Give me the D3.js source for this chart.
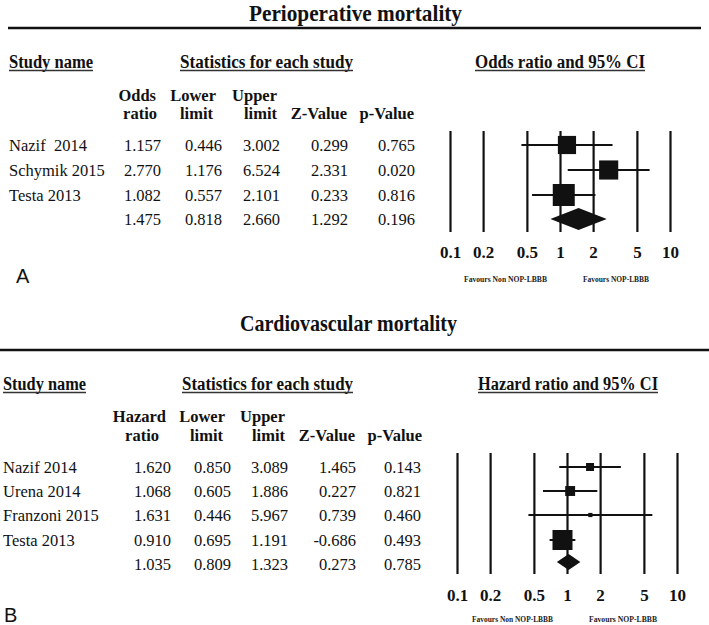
<!DOCTYPE html>
<html><head><meta charset="utf-8">
<script src="https://cdn.jsdelivr.net/npm/d3@7"></script>
<style>body{margin:0;background:#fff} svg{display:block}</style>
</head><body>
<svg id="chart" width="709" height="625"></svg>
<script>
// ---------- data ----------
const tickValues = [0.1, 0.2, 0.5, 1, 2, 5, 10];
const tickLabels = ["0.1", "0.2", "0.5", "1", "2", "5", "10"];

// Panel A: Perioperative mortality (odds ratio)
const studiesA = ["Nazif  2014", "Schymik 2015", "Testa 2013"];
const ratioA   = [1.157, 2.770, 1.082];
const lowerA   = [0.446, 1.176, 0.557];
const upperA   = [3.002, 6.524, 2.101];
const zValueA  = [0.299, 2.331, 0.233];
const pValueA  = [0.765, 0.020, 0.816];
const weightA  = [28, 31, 41];
const summaryA = [1.475, 0.818, 2.660, 1.292, 0.196]; // ratio, lower, upper, z, p

// Panel B: Cardiovascular mortality (hazard ratio)
const studiesB = ["Nazif 2014", "Urena 2014", "Franzoni 2015", "Testa 2013"];
const ratioB   = [1.620, 1.068, 1.631, 0.910];
const lowerB   = [0.850, 0.605, 0.446, 0.695];
const upperB   = [3.089, 1.886, 5.967, 1.191];
const zValueB  = [1.465, 0.227, 0.739, -0.686];
const pValueB  = [0.143, 0.821, 0.460, 0.493];
const weightB  = [11, 17, 3, 69];
const summaryB = [1.035, 0.809, 1.323, 0.273, 0.785];

const favourLabels = ["Favours Non NOP-LBBB", "Favours NOP-LBBB"];

// ---------- drawing ----------
const svg = d3.select("#chart");
const SERIF = "'Liberation Serif','Times New Roman',Times,serif";
const SANS = "'Liberation Sans',Arial,Helvetica,sans-serif";
const fmt = d3.formatLocale({ decimal: ".", thousands: ",", grouping: [3], currency: ["", ""], minus: "-" }).format(".3f");

function drawPanel(p) {
  const g = svg.append("g");
  // title
  g.append("text").attr("x", p.titleX).attr("y", p.titleY)
    .attr("text-anchor", "middle").attr("font-family", SERIF).attr("font-weight", "bold")
    .attr("font-size", 24).attr("fill", "#111")
    .attr("textLength", p.titleW).attr("lengthAdjust", "spacingAndGlyphs")
    .text(p.title);
  // rule
  g.append("line").attr("x1", p.ruleX[0]).attr("x2", p.ruleX[1])
    .attr("y1", p.ruleY).attr("y2", p.ruleY).attr("stroke", "#111").attr("stroke-width", 2.5);

  // section headers, underlined
  p.sections.forEach(s => {
    g.append("text").attr("x", s.x).attr("y", p.secY)
      .attr("font-family", SERIF).attr("font-weight", "bold").attr("font-size", 18)
      .attr("fill", "#111").attr("textLength", s.w).attr("lengthAdjust", "spacingAndGlyphs")
      .text(s.text);
    g.append("line").attr("x1", s.x).attr("x2", s.x + s.w)
      .attr("y1", p.secY + 2.5).attr("y2", p.secY + 2.5)
      .attr("stroke", "#333").attr("stroke-width", 1.5);
  });

  // column headers
  p.headers.forEach((h, i) => {
    h.forEach((line, j) => {
      if (!line) return;
      g.append("text").attr("x", p.hdrRight[i][j]).attr("y", j === 0 ? p.hdr1Y : p.hdr2Y)
        .attr("text-anchor", "end").attr("font-family", SERIF).attr("font-weight", "bold")
        .attr("font-size", 16.5).attr("fill", "#111").text(line);
    });
  });

  // rows
  const rows = p.studies.map((s, i) => ({
    name: s, vals: [p.ratio[i], p.lower[i], p.upper[i], p.z[i], p.p[i]], w: p.weight[i], y: p.rowY[i]
  }));
  const sumRow = { name: "", vals: p.summary, y: p.rowY[p.studies.length] };
  [...rows, sumRow].forEach(r => {
    g.append("text").attr("x", p.nameX).attr("y", r.y + 5.5)
      .attr("font-family", SERIF).attr("font-size", 16.5).attr("fill", "#111")
      .style("white-space", "pre").text(r.name);
    r.vals.forEach((v, k) => {
      g.append("text").attr("x", p.colRight[k]).attr("y", r.y + 5.5)
        .attr("text-anchor", "end").attr("font-family", SERIF).attr("font-size", 16.5)
        .attr("fill", "#111").text(fmt(v));
    });
  });

  // forest plot
  const x = d3.scaleLog().domain([0.1, 10]).range(p.xRange);
  const axis = d3.axisBottom(x).tickValues(tickValues)
    .tickFormat((d, i) => tickLabels[i])
    .tickSize(-(p.lineBottom - p.lineTop)).tickPadding(p.tickPad);
  const ag = g.append("g").attr("transform", `translate(0,${p.lineBottom})`).call(axis);
  ag.select(".domain").remove();
  ag.selectAll(".tick line").attr("stroke", "#111").attr("stroke-width", 2.2);
  ag.selectAll(".tick text").attr("fill", "#111").attr("font-family", SERIF)
    .attr("font-weight", "bold").attr("font-size", 17);

  const box = d3.scaleSqrt().domain([0, d3.max(p.weight)]).range([0, p.maxBox]);
  const fg = g.append("g");
  fg.selectAll("line.ci").data(rows).join("line").attr("class", "ci")
    .attr("x1", d => x(d.vals[1])).attr("x2", d => x(d.vals[2]))
    .attr("y1", d => d.y).attr("y2", d => d.y)
    .attr("stroke", "#111").attr("stroke-width", 2);
  fg.selectAll("rect.box").data(rows).join("rect").attr("class", "box")
    .attr("x", d => x(d.vals[0]) - box(d.w) / 2).attr("y", d => d.y - box(d.w) / 2)
    .attr("width", d => box(d.w)).attr("height", d => box(d.w)).attr("fill", "#111");
  const s = p.summary, yc = p.diamondY, h = p.diamondH / 2;
  fg.append("polygon")
    .attr("points", [[x(s[1]), yc], [x(s[0]), yc - h], [x(s[2]), yc], [x(s[0]), yc + h]].map(q => q.join(",")).join(" "))
    .attr("fill", "#111");

  // favours labels
  favourLabels.forEach((lab, i) => {
    const r = i === 0 ? p.favNon : p.favNop;
    g.append("text").attr("x", r[0]).attr("y", p.favY)
      .attr("font-family", SERIF).attr("font-weight", "bold").attr("font-size", 8.5)
      .attr("fill", "#222").attr("textLength", r[1] - r[0]).attr("lengthAdjust", "spacingAndGlyphs")
      .text(lab);
  });

  // panel label
  g.append("text").attr("x", p.labelX).attr("y", p.labelY)
    .attr("font-family", SANS).attr("font-size", 20).attr("fill", "#111").text(p.label);
}

drawPanel({
  title: "Perioperative mortality", titleX: 355.5, titleW: 213, titleY: 21,
  ruleX: [8, 701], ruleY: 28, secY: 68,
  sections: [{ text: "Study name", x: 9, w: 84 }, { text: "Statistics for each study", x: 180, w: 173 },
             { text: "Odds ratio and 95% CI", x: 475, w: 170 }],
  headers: [["Odds", "ratio"], ["Lower", "limit"], ["Upper", "limit"], [null, "Z-Value"], [null, "p-Value"]],
  hdrRight: [[156, 157], [216, 213], [277, 277], [0, 347], [0, 414]],
  hdr1Y: 100.5, hdr2Y: 118.5,
  studies: studiesA, ratio: ratioA, lower: lowerA, upper: upperA, z: zValueA, p: pValueA,
  weight: weightA, summary: summaryA,
  nameX: 9, colRight: [161, 222, 280, 348, 415], rowY: [145, 170, 195, 219],
  xRange: [450, 670], lineTop: 131, lineBottom: 232, tickPad: 14,
  maxBox: 22, diamondY: 219, diamondH: 22,
  favY: 281.5, favNon: [464, 547], favNop: [583, 649],
  label: "A", labelX: 16, labelY: 283
});

drawPanel({
  title: "Cardiovascular mortality", titleX: 348.5, titleW: 217, titleY: 331,
  ruleX: [0, 709], ruleY: 350, secY: 390,
  sections: [{ text: "Study name", x: 3, w: 83 }, { text: "Statistics for each study", x: 182, w: 171 },
             { text: "Hazard ratio and 95% CI", x: 478, w: 180 }],
  headers: [["Hazard", "ratio"], ["Lower", "limit"], ["Upper", "limit"], [null, "Z-Value"], [null, "p-Value"]],
  hdrRight: [[166, 159], [225, 223], [285, 285], [0, 355], [0, 422]],
  hdr1Y: 421.5, hdr2Y: 440.5,
  studies: studiesB, ratio: ratioB, lower: lowerB, upper: upperB, z: zValueB, p: pValueB,
  weight: weightB, summary: summaryB,
  nameX: 3, colRight: [171, 231, 288, 356, 421], rowY: [467, 491, 515, 540, 564],
  xRange: [457, 677], lineTop: 453, lineBottom: 574, tickPad: 15,
  maxBox: 20, diamondY: 562, diamondH: 16,
  favY: 621.5, favNon: [472, 553], favNop: [589, 657],
  label: "B", labelX: 4, labelY: 622
});
</script>
</body></html>
